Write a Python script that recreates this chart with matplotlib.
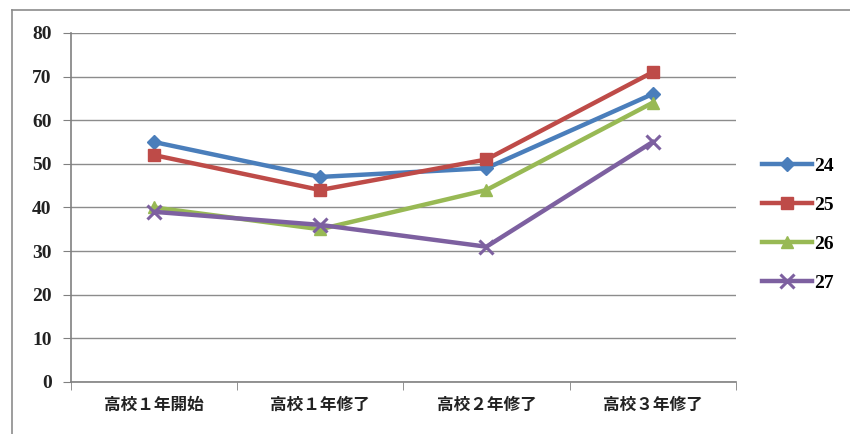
import matplotlib.pyplot as plt
from matplotlib.lines import Line2D

plt.rcParams['font.family'] = ['Noto Sans CJK JP', 'DejaVu Sans']

categories = ['高校１年開始', '高校１年修了', '高校２年修了', '高校３年修了']
series_names = ['24', '25', '26', '27']
s24 = [55, 47, 49, 66]
s25 = [52, 44, 51, 71]
s26 = [40, 35, 44, 64]
s27 = [39, 36, 31, 55]
y_ticks = [0, 10, 20, 30, 40, 50, 60, 70, 80]

colors = ['#4a7ebb', '#be4b48', '#98b954', '#7d60a0']
markers = ['D', 's', '^', 'x']
msizes = [7, 9, 9, 10]

fig = plt.figure(figsize=(8.5, 4.34), dpi=100)
ax = fig.add_axes([0.0835, 0.12, 0.782, 0.804])

# outer chart border
fig.add_artist(Line2D([12/850, 12/850], [0, 1 - 10/434], color='#8c8c8c', lw=1.2))
fig.add_artist(Line2D([12/850, 1], [1 - 10/434, 1 - 10/434], color='#8c8c8c', lw=1.2))

x = range(len(categories))
for name, vals, c, m, ms in zip(series_names, [s24, s25, s26, s27], colors, markers, msizes):
    ax.plot(x, vals, color=c, lw=3.2, marker=m, markersize=ms, markeredgewidth=2.2 if m == 'x' else 1,
            label=name, solid_joinstyle='miter')

ax.set_xlim(-0.5, len(categories) - 0.5)
ax.set_ylim(0, 80)
ax.set_yticks(y_ticks)
ax.set_yticklabels([str(v) for v in y_ticks], fontfamily='Liberation Serif', fontweight='bold', fontsize=14, color='#222222')
ax.set_xticks(list(x))
ax.set_xticklabels(categories, fontsize=12, fontweight='bold', color='#222222')
ax.set_xticks([i - 0.5 for i in range(len(categories) + 1)], minor=True)
ax.tick_params(axis='x', which='major', length=0, pad=10)
ax.tick_params(axis='x', which='minor', length=6, color='#808080', direction='out')
ax.tick_params(axis='y', length=6, color='#808080', direction='out', pad=8)

ax.grid(axis='y', color='#8c8c8c', lw=1)
ax.set_axisbelow(True)
for s in ['top', 'right']:
    ax.spines[s].set_visible(False)
for s in ['left', 'bottom']:
    ax.spines[s].set_color('#808080')
    ax.spines[s].set_linewidth(1.2)

leg = ax.legend(loc='upper left', bbox_to_anchor=(1.013, 0.695), frameon=False, handlelength=2.6,
                labelspacing=1.1, prop={'family': 'Liberation Serif', 'weight': 'bold', 'size': 14},
                handletextpad=0.1)

fig.savefig('out.png', dpi=100)
